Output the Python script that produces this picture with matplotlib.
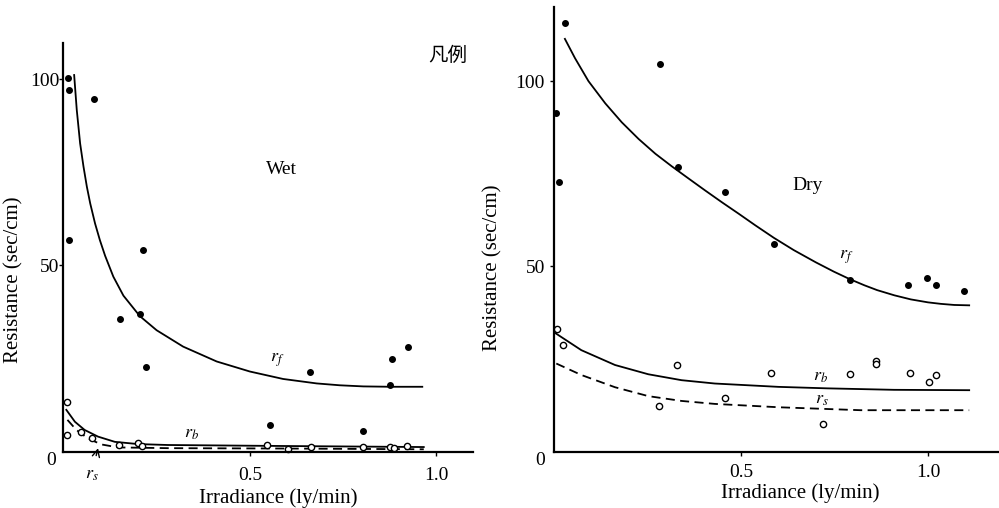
import matplotlib
matplotlib.use("Agg")
import matplotlib.pyplot as plt
from matplotlib.transforms import blended_transform_factory

plt.rcParams['font.family'] = ['Liberation Serif', 'DejaVu Serif']
plt.rcParams['mathtext.fontset'] = 'stix'

# ---------------- Wet panel data ----------------
wet_rf_x = [0.012, 0.014, 0.082, 0.015, 0.213, 0.152, 0.205, 0.222, 0.661, 0.880, 0.925, 0.875, 0.553, 0.803]
wet_rf_y = [100.3, 97.2, 94.8, 56.9, 54.2, 35.5, 37.0, 22.8, 21.4, 24.9, 28.2, 18.0, 7.0, 5.5]

wet_open_x = [0.011, 0.011, 0.048, 0.078, 0.149, 0.200, 0.212, 0.547, 0.603, 0.665, 0.803, 0.875, 0.886, 0.920]
wet_open_y = [13.2, 4.4, 5.3, 3.7, 1.7, 2.4, 1.6, 1.7, 0.75, 1.1, 1.3, 1.1, 0.9, 1.6]

wet_rf_curve_x = [0.029, 0.036, 0.045, 0.054, 0.063, 0.072, 0.085, 0.098, 0.112, 0.134, 0.161, 0.205,
                  0.250, 0.321, 0.411, 0.500, 0.589, 0.679, 0.741, 0.804, 0.880, 0.962]
wet_rf_curve_y = [101.2, 91.8, 82.8, 76.6, 71.2, 66.7, 61.3, 56.8, 52.6, 47.0, 41.9, 36.4,
                  32.6, 28.2, 24.2, 21.5, 19.5, 18.3, 17.8, 17.5, 17.4, 17.4]

wet_rb_curve_x = [0.008, 0.031, 0.057, 0.093, 0.138, 0.200, 0.280, 0.567, 0.966]
wet_rb_curve_y = [11.2, 8.0, 5.8, 4.0, 2.6, 2.0, 1.75, 1.5, 1.2]

wet_rs_curve_x = [0.011, 0.035, 0.066, 0.102, 0.147, 0.280, 0.600, 0.966]
wet_rs_curve_y = [8.5, 5.8, 3.5, 1.9, 1.1, 0.9, 0.8, 0.6]

# ---------------- Dry panel data ----------------
dry_rf_x = [0.029, 0.005, 0.013, 0.282, 0.332, 0.456, 0.588, 0.790, 0.946, 0.996, 1.021, 1.097]
dry_rf_y = [115.6, 91.5, 72.9, 104.6, 76.8, 70.1, 56.1, 46.3, 45.1, 47.0, 44.9, 43.4]

dry_open_x = [0.008, 0.023, 0.280, 0.329, 0.458, 0.579, 0.720, 0.791, 0.860, 0.860, 0.951, 1.002, 1.021]
dry_open_y = [33.1, 28.7, 12.3, 23.3, 14.6, 21.2, 7.5, 21.1, 24.5, 23.6, 21.2, 18.9, 20.7]

dry_rf_curve_x = [0.029, 0.056, 0.092, 0.137, 0.181, 0.226, 0.271, 0.315, 0.360, 0.404, 0.449, 0.494,
                  0.538, 0.588, 0.641, 0.700, 0.748, 0.790, 0.830, 0.864, 0.910, 0.954, 1.000,
                  1.034, 1.070, 1.110]
dry_rf_curve_y = [111.4, 106.2, 100.0, 94.0, 88.9, 84.4, 80.4, 77.0, 73.7, 70.5, 67.3, 64.2,
                  61.1, 57.7, 54.4, 51.1, 48.6, 46.6, 44.9, 43.6, 42.2, 41.1, 40.3,
                  39.9, 39.6, 39.5]

dry_rb_curve_x = [0.002, 0.073, 0.163, 0.252, 0.341, 0.430, 0.600, 0.730, 0.909, 1.110]
dry_rb_curve_y = [32.1, 27.4, 23.4, 20.9, 19.3, 18.4, 17.5, 17.1, 16.7, 16.6]

dry_rs_curve_x = [0.006, 0.073, 0.163, 0.252, 0.341, 0.430, 0.600, 0.820, 1.110]
dry_rs_curve_y = [23.8, 20.7, 17.4, 15.0, 13.7, 12.9, 12.0, 11.2, 11.2]

x_ticks = [0.5, 1.0]
x_tick_labels = ['0.5', '1.0']
y_ticks = [50, 100]
y_tick_labels = ['50', '100']

fig = plt.figure(figsize=(9.99, 5.08), dpi=100)
ax1 = fig.add_axes([0.0634, 0.1112, 0.4101, 0.8041])
ax2 = fig.add_axes([0.5546, 0.1108, 0.4455, 0.8754])

def style(ax, xmax, ymax, ypad, xpad, zero_x):
    ax.set_xlim(0, xmax)
    ax.set_ylim(0, ymax)
    for s in ['top', 'right']:
        ax.spines[s].set_visible(False)
    for s in ['left', 'bottom']:
        ax.spines[s].set_linewidth(1.6)
    ax.set_xticks(x_ticks)
    ax.set_xticklabels(x_tick_labels)
    ax.set_yticks(y_ticks)
    ax.set_yticklabels(y_tick_labels)
    ax.tick_params(axis='x', direction='out', length=3, width=1, pad=xpad, labelsize=14)
    ax.tick_params(axis='y', direction='out', length=3, width=1, pad=ypad, labelsize=14)
    tr = blended_transform_factory(ax.transAxes, ax.transData)
    ax.text(zero_x, 0, '0', transform=tr, ha='right', va='top', fontsize=14)

line_kw = dict(color='black', linewidth=1.3)
dot_kw = dict(linestyle='none', marker='o', color='black', markersize=4, clip_on=False)
open_kw = dict(linestyle='none', marker='o', markerfacecolor='white', markeredgecolor='black',
               markersize=4.5, markeredgewidth=1, clip_on=False)

# Wet panel
style(ax1, 1.098, 109.8, 0, 8, -0.018)
ax1.plot(wet_rf_curve_x, wet_rf_curve_y, **line_kw)
ax1.plot(wet_rb_curve_x, wet_rb_curve_y, **line_kw)
ax1.plot(wet_rs_curve_x, wet_rs_curve_y, color='black', linewidth=1.3, linestyle=(0, (5, 3)))
ax1.plot(wet_rf_x, wet_rf_y, **dot_kw)
ax1.plot(wet_open_x, wet_open_y, **open_kw)
ax1.text(0.585, 75.7, 'Wet', ha='center', va='center', fontsize=14)
ax1.text(0.572, 24.6, r'$r_f$', ha='center', va='center', fontsize=13)
ax1.text(0.344, 4.9, r'$r_b$', ha='center', va='center', fontsize=13)
ax1.annotate(r'$r_s$', xy=(0.093, 0.9), xytext=(0.075, -6.3), ha='center', va='center', fontsize=13,
             annotation_clip=False,
             arrowprops=dict(arrowstyle='->', color='black', lw=1, shrinkA=6, shrinkB=0))
ax1.set_xlabel('Irradiance (ly/min)', fontsize=15)
ax1.set_ylabel('Resistance (sec/cm)', fontsize=15)
ax1.xaxis.set_label_coords(0.524, -0.089)
ax1.yaxis.set_label_coords(-0.098, 0.42)

# Dry panel
style(ax2, 1.19, 120, 3.5, 6, -0.020)
ax2.plot(dry_rf_curve_x, dry_rf_curve_y, **line_kw)
ax2.plot(dry_rb_curve_x, dry_rb_curve_y, **line_kw)
ax2.plot(dry_rs_curve_x, dry_rs_curve_y, color='black', linewidth=1.3, linestyle=(0, (5, 3)))
ax2.plot(dry_rf_x, dry_rf_y, **dot_kw)
ax2.plot(dry_open_x, dry_open_y, **open_kw)
ax2.text(0.677, 71.9, 'Dry', ha='center', va='center', fontsize=14)
ax2.text(0.780, 52.6, r'$r_f$', ha='center', va='center', fontsize=13)
ax2.text(0.713, 20.2, r'$r_b$', ha='center', va='center', fontsize=13)
ax2.text(0.717, 14.1, r'$r_s$', ha='center', va='center', fontsize=13)
ax2.set_xlabel('Irradiance (ly/min)', fontsize=15)
ax2.set_ylabel('Resistance (sec/cm)', fontsize=15)
ax2.xaxis.set_label_coords(0.553, -0.072)
ax2.yaxis.set_label_coords(-0.115, 0.413)

fig.text(0.4484, 0.8917, '凡例', family=['Noto Sans CJK JP', 'DejaVu Sans'], fontsize=14,
         ha='center', va='center')

fig.savefig('out.png', dpi=100)
